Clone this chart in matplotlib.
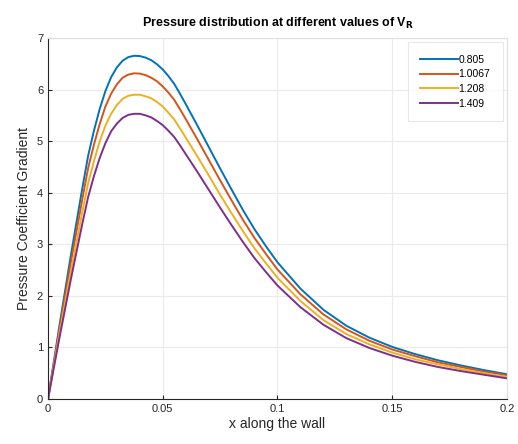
import matplotlib.pyplot as plt

plt.rcParams['font.family'] = ['Liberation Sans', 'DejaVu Sans']

x_pos = [0, 0.005, 0.01, 0.015, 0.0175, 0.02, 0.0225, 0.025, 0.0275, 0.03,
         0.0325, 0.035, 0.0375, 0.04, 0.0425, 0.045, 0.0475, 0.05, 0.0525,
         0.055, 0.0575, 0.06, 0.065, 0.07, 0.075, 0.08, 0.085, 0.09, 0.095,
         0.1, 0.11, 0.12, 0.13, 0.14, 0.15, 0.16, 0.17, 0.18, 0.19, 0.2]

cp_0805 = [0, 1.43, 2.8, 4.1, 4.72, 5.2, 5.62, 5.97, 6.24, 6.43,
           6.56, 6.63, 6.655, 6.65, 6.62, 6.57, 6.49, 6.39, 6.26,
           6.11, 5.92, 5.72, 5.31, 4.89, 4.47, 4.06, 3.66, 3.29, 2.96,
           2.65, 2.14, 1.73, 1.42, 1.19, 1.01, 0.87, 0.75, 0.65, 0.56, 0.48]
cp_10067 = [0, 1.36, 2.66, 3.89, 4.48, 4.93, 5.33, 5.67, 5.92, 6.1,
            6.23, 6.29, 6.315, 6.31, 6.28, 6.23, 6.16, 6.06, 5.94,
            5.8, 5.62, 5.43, 5.04, 4.64, 4.24, 3.85, 3.47, 3.12, 2.81,
            2.51, 2.03, 1.64, 1.35, 1.13, 0.96, 0.83, 0.71, 0.62, 0.53, 0.46]
cp_1208 = [0, 1.27, 2.48, 3.64, 4.19, 4.61, 4.99, 5.3, 5.53, 5.7,
           5.82, 5.88, 5.9, 5.9, 5.87, 5.83, 5.76, 5.67, 5.55,
           5.42, 5.25, 5.07, 4.71, 4.34, 3.96, 3.6, 3.25, 2.92, 2.63,
           2.35, 1.9, 1.53, 1.26, 1.06, 0.9, 0.77, 0.67, 0.58, 0.5, 0.43]
cp_1409 = [0, 1.19, 2.33, 3.41, 3.92, 4.32, 4.67, 4.96, 5.19, 5.34,
           5.45, 5.51, 5.53, 5.53, 5.5, 5.46, 5.39, 5.31, 5.2,
           5.08, 4.92, 4.75, 4.41, 4.06, 3.71, 3.37, 3.04, 2.73, 2.46,
           2.2, 1.78, 1.44, 1.18, 0.99, 0.84, 0.72, 0.62, 0.54, 0.47, 0.4]

labels = ['0.805', '1.0067', '1.208', '1.409']
series = [cp_0805, cp_10067, cp_1208, cp_1409]
colors = ['#0072BD', '#D95319', '#EDB120', '#7E2F8E']

fig = plt.figure(figsize=(5.18, 4.44), dpi=100)
ax = fig.add_axes([0.0927, 0.1014, 0.886, 0.813])

for vals, lab, c in zip(series, labels, colors):
    ax.plot(x_pos, vals, color=c, lw=1.4, label=lab)

ax.set_xlim(0, 0.2)
ax.set_ylim(0, 7)
ax.set_xticks([0, 0.05, 0.1, 0.15, 0.2])
ax.set_xticklabels(['0', '0.05', '0.1', '0.15', '0.2'])
ax.set_yticks(range(8))
ax.grid(True, color='#ebebeb', lw=0.8)
ax.set_axisbelow(True)
ax.tick_params(direction='in', labelsize=8, colors='#262626', length=3)

for s in ['left', 'bottom']:
    ax.spines[s].set_color('#262626')
for s in ['top', 'right']:
    ax.spines[s].set_color('#e0e0e0')

ax.set_xlabel('x along the wall', fontsize=10, color='#262626', labelpad=2)
ax.set_ylabel('Pressure Coefficient Gradient', fontsize=10, color='#262626', labelpad=4)
ax.set_title('Pressure distribution at different values of V$_\\mathbf{R}$',
             fontsize=9, fontweight='bold', pad=8)

leg = ax.legend(loc='upper right', fontsize=7.5, frameon=True, fancybox=False,
                handlelength=3.6, handletextpad=0.1, labelspacing=0.45,
                borderpad=1.2, borderaxespad=0.4)
leg.get_frame().set_edgecolor('#e3e3e3')
leg.get_frame().set_linewidth(0.8)

fig.savefig('out.png', dpi=100)
